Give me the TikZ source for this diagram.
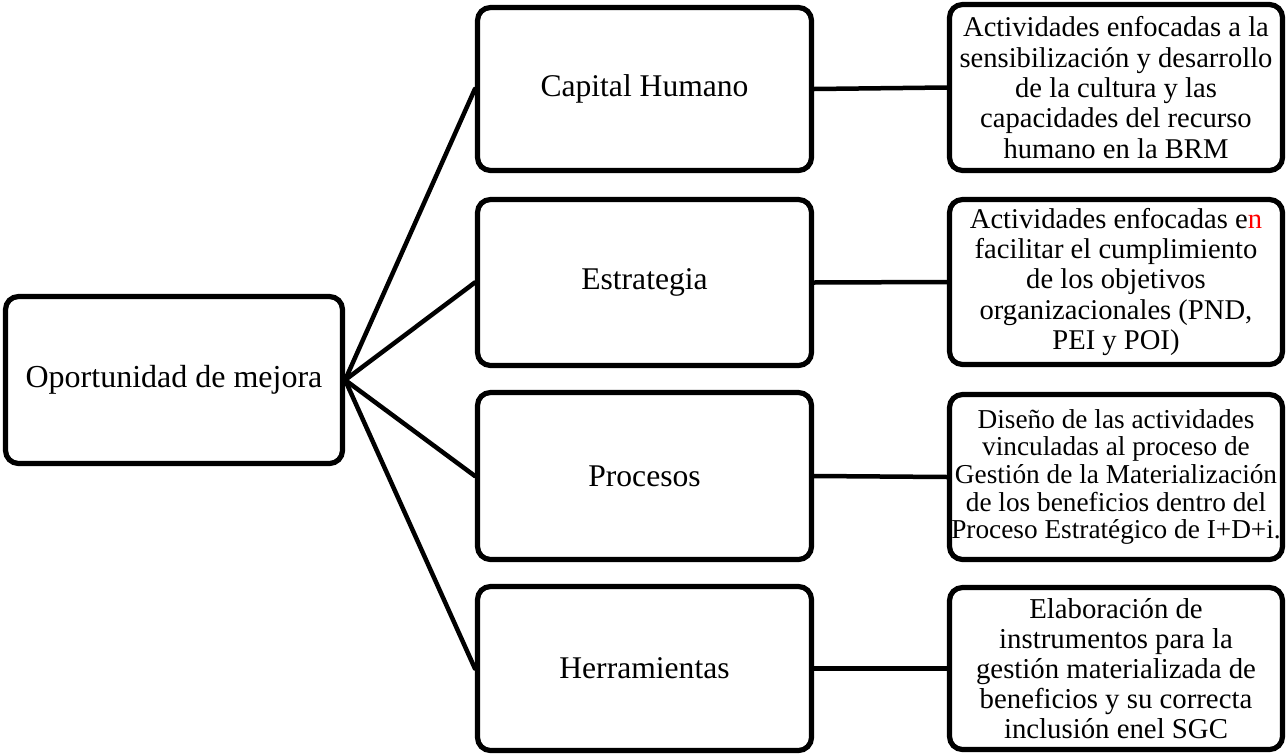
\documentclass[tikz,border=0pt]{standalone}
\usepackage{fontspec}
\setmainfont{Liberation Serif}
\begin{document}
\begin{tikzpicture}[x=1pt,y=-1pt,
  box/.style={draw=black, line width=5.2pt, rounded corners=13pt, fill=white,
    inner sep=0pt, align=center},
  root/.style={box, minimum width=337pt, minimum height=167pt,
    font=\fontsize{32}{36}\selectfont},
  area/.style={box, minimum width=334pt, font=\fontsize{31.6}{36}\selectfont},
  detail/.style={box, minimum width=333pt, font=\fontsize{28.6}{30.4}\selectfont},
  link/.style={line width=4.5pt, line cap=round}]
\useasboundingbox (0,0) rectangle (1286,755);

% root
\node[root] (root) at (174,380) {Oportunidad de mejora};

% areas
\node[area, minimum height=163pt] (cap) at (644.5,89) {Capital Humano};
\node[area, minimum height=166pt] (est) at (644.5,282.5) {Estrategia};
\node[area, minimum height=167pt] (pro) at (644.5,476) {Procesos};
\node[area, minimum height=164pt] (her) at (644.5,668.5) {Herramientas};

% details
\node[detail, minimum height=166pt] (d1) at (1116,87.5)
  {Actividades enfocadas a la\\sensibilización y desarrollo\\de la cultura y las\\capacidades del recurso\\humano en la BRM};
\node[detail, minimum height=165pt] (d2) at (1116,282)
  {Actividades enfocadas e\textcolor{red}{n}\\facilitar el cumplimiento\\de los objetivos\\organizacionales (PND,\\PEI y POI)};
\node[detail, minimum height=165pt, font=\fontsize{27.3}{27.6}\selectfont] (d3) at (1116,477)
  {Diseño de las actividades\\vinculadas al proceso de\\Gestión de la Materialización\\de los beneficios dentro del\\Proceso Estratégico de I+D+i.};
\node[detail, minimum height=162pt, font=\fontsize{28.8}{30}\selectfont] (d4) at (1116,668.5)
  {Elaboración de\\instrumentos para la\\gestión materializada de\\beneficios y su correcta\\inclusión enel SGC};

% connectors: root to areas, areas to details
\draw[link] (root.east) -- (cap.west);
\draw[link] (root.east) -- (est.west);
\draw[link] (root.east) -- (pro.west);
\draw[link] (root.east) -- (her.west);
\draw[link] (cap.east) -- (d1.west);
\draw[link] (est.east) -- (d2.west);
\draw[link] (pro.east) -- (d3.west);
\draw[link] (her.east) -- (d4.west);
\end{tikzpicture}
\end{document}
